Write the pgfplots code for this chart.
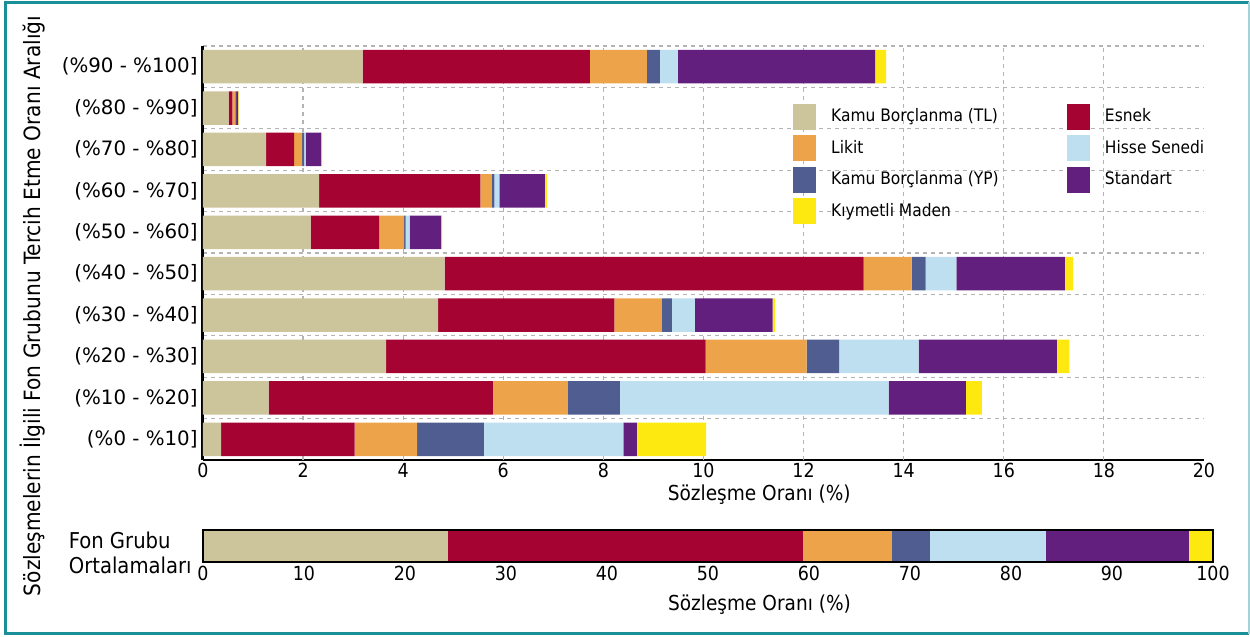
\documentclass[border=0pt]{standalone}
\usepackage{fontspec}
\setmainfont{DejaVu Sans}
\newfontfamily\cond{DejaVu Sans Condensed}
\usepackage{pgfplots}
\usepackage{pgfplotstable}
\pgfplotsset{compat=1.18}

\definecolor{cTL}{HTML}{CCC49A}
\definecolor{cEs}{HTML}{A50433}
\definecolor{cLi}{HTML}{ECA349}
\definecolor{cYP}{HTML}{505D91}
\definecolor{cHi}{HTML}{BEDFEF}
\definecolor{cSt}{HTML}{621F7D}
\definecolor{cMa}{HTML}{FDE910}
\definecolor{framec}{HTML}{1B8F98}
\definecolor{gridc}{HTML}{B4B4B4}

\pgfplotstableread{
y TL Esnek Likit YP Hisse Standart Maden
0 0.36 2.67 1.25 1.33 2.79 0.27 1.38
1 1.31 4.48 1.50 1.04 5.37 1.54 0.32
2 3.66 6.38 2.02 0.65 1.59 2.76 0.25
3 4.70 3.52 0.95 0.20 0.46 1.55 0.05
4 4.83 8.37 0.96 0.28 0.61 2.17 0.16
5 2.15 1.37 0.50 0.03 0.08 0.63 0.02
6 2.32 3.22 0.23 0.05 0.10 0.91 0.04
7 1.26 0.56 0.16 0.04 0.03 0.31 0.02
8 0.51 0.075 0.055 0.01 0.01 0.04 0.01
9 3.19 4.54 1.14 0.26 0.36 3.94 0.22
}\rows

\pgfplotstableread{
y TL Esnek Likit YP Hisse Standart Maden
0 24.3 35.1 8.8 3.8 11.5 14.1 2.4
}\avg

\pgfplotsset{
  sq/.style={legend image code/.code={\fill[#1] (0pt,-6.25pt) rectangle (11pt,6.25pt);}},
  seg/.style={fill=#1, draw=none},
}

\begin{document}
\begin{tikzpicture}[x=1pt,y=1pt]
\useasboundingbox (0,0) rectangle (625,318.5);

\begin{axis}[
  at={(101.5pt,88.5pt)}, anchor=south west,
  scale only axis, width=500.5pt, height=207pt,
  xbar stacked, bar width=16.75pt,
  xmin=0, xmax=20, ymin=-0.5, ymax=9.5,
  axis lines=left,
  axis line style={-, black},
  x axis line style={line width=1pt},
  y axis line style={line width=1.5pt},
  xtick={0,2,...,20},
  extra x ticks={2,4,...,18},
  extra x tick labels={},
  extra x tick style={grid=major},
  major grid style={gridc, dash pattern=on 2pt off 2pt, line width=0.6pt},
  ytick={0,...,9},
  yticklabels={{(\%0 - \%10]},{(\%10 - \%20]},{(\%20 - \%30]},{(\%30 - \%40]},{(\%40 - \%50]},{(\%50 - \%60]},{(\%60 - \%70]},{(\%70 - \%80]},{(\%80 - \%90]},{(\%90 - \%100]}},
  minor ytick={0.5,1.5,...,9.5},
  yminorgrids=true,
  minor grid style={gridc, dash pattern=on 2pt off 2pt, line width=0.6pt},
  major tick length=0pt, minor tick length=0pt,
  tick style={draw=none},
  /pgf/number format/assume math mode=true,
  xticklabel style={font=\cond\fontsize{9.7}{11}\selectfont, inner sep=1.5pt},
  yticklabel style={font=\fontsize{9.9}{11}\selectfont, inner sep=2.5pt},
  xlabel={Sözleşme Oranı (\%)},
  xlabel style={at={(axis description cs:0.5557,0)}, anchor=base, yshift=-20.5pt, font=\cond\fontsize{10.3}{12}\selectfont},
  legend columns=2,
  legend cell align=left,
  legend style={draw=none, fill=none, at={(axis description cs:0.5894,0.8617)}, anchor=north west,
    inner sep=0pt, column sep=7.5pt, row sep=2.85pt,
    nodes={inner sep=0pt, font=\cond\fontsize{8.6}{10}\selectfont}},
]
\addplot[seg=cTL, forget plot] table[x=TL,y=y]{\rows};
\addplot[seg=cEs, forget plot] table[x=Esnek,y=y]{\rows};
\addplot[seg=cLi, forget plot] table[x=Likit,y=y]{\rows};
\addplot[seg=cYP, forget plot] table[x=YP,y=y]{\rows};
\addplot[seg=cHi, forget plot] table[x=Hisse,y=y]{\rows};
\addplot[seg=cSt, forget plot] table[x=Standart,y=y]{\rows};
\addplot[seg=cMa, forget plot] table[x=Maden,y=y]{\rows};
\addlegendimage{sq=cTL}\addlegendentry{\makebox[110.5pt][l]{Kamu Borçlanma (TL)}}
\addlegendimage{sq=cEs}\addlegendentry{Esnek}
\addlegendimage{sq=cLi}\addlegendentry{\makebox[110.5pt][l]{Likit}}
\addlegendimage{sq=cHi}\addlegendentry{Hisse Senedi}
\addlegendimage{sq=cYP}\addlegendentry{\makebox[110.5pt][l]{Kamu Borçlanma (YP)}}
\addlegendimage{sq=cSt}\addlegendentry{Standart}
\addlegendimage{sq=cMa}\addlegendentry{\makebox[110.5pt][l]{Kıymetli Maden}}
\end{axis}

\begin{axis}[
  at={(101.5pt,37.25pt)}, anchor=south west,
  scale only axis, width=505pt, height=16pt,
  xbar stacked, bar width=16pt,
  xmin=0, xmax=100, ymin=-0.5, ymax=0.5,
  xtick={0,10,...,100}, ytick=\empty,
  axis on top,
  axis line style={black, line width=1pt},
  major tick length=0pt, tick style={draw=none},
  /pgf/number format/assume math mode=true,
  xticklabel style={font=\cond\fontsize{9.7}{11}\selectfont, inner sep=1.5pt},
  xlabel={Sözleşme Oranı (\%)},
  xlabel style={at={(axis description cs:0.551,0)}, anchor=base, yshift=-24pt, font=\cond\fontsize{10.3}{12}\selectfont},
]
\addplot[seg=cTL] table[x=TL,y=y]{\avg};
\addplot[seg=cEs] table[x=Esnek,y=y]{\avg};
\addplot[seg=cLi] table[x=Likit,y=y]{\avg};
\addplot[seg=cYP] table[x=YP,y=y]{\avg};
\addplot[seg=cHi] table[x=Hisse,y=y]{\avg};
\addplot[seg=cSt] table[x=Standart,y=y]{\avg};
\addplot[seg=cMa] table[x=Maden,y=y]{\avg};
\end{axis}

\node[anchor=east, align=left, inner sep=0pt, font=\cond\fontsize{10.9}{12.5}\selectfont] at (96,42) {Fon Grubu\\Ortalamaları};
\node[rotate=90, inner sep=0pt, font=\cond\fontsize{11.2}{12}\selectfont] at (16.5,165.5) {Sözleşmelerin İlgili Fon Grubunu Tercih Etme Oranı Aralığı};

\draw[framec, line width=1.5pt] (624.25,317.25) -- (2.5,317.25) -- (2.5,1.5) -- (624.25,1.5);
\draw[framec!40, line width=1pt] (624.25,1.5) -- (624.25,317.25);
\end{tikzpicture}
\end{document}
